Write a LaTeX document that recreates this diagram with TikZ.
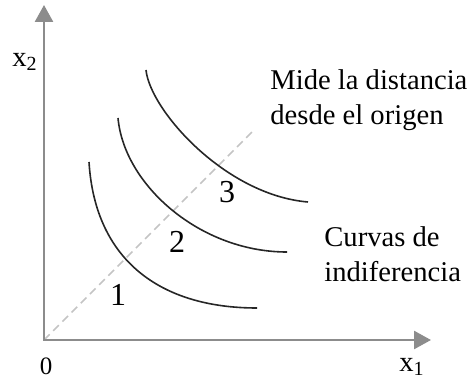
\documentclass[tikz,border=0pt]{standalone}
\usepackage{fontspec}
\setmainfont{Liberation Serif}
\usetikzlibrary{arrows.meta}
\definecolor{axisgray}{HTML}{8C8C8C}
\definecolor{diaggray}{HTML}{C4C4C4}
\begin{document}
\begin{tikzpicture}[x=0.5pt,y=-0.5pt,
    axis/.style={draw=axisgray, line width=1.3pt, {Triangle[length=8.5pt,width=9pt]}-{Triangle[length=8.5pt,width=9pt]}},
    diag/.style={draw=diaggray, line width=0.8pt, dash pattern=on 4pt off 2.5pt},
    curve/.style={draw=black!85, line width=0.8pt},
    lbl/.style={inner sep=0pt, font=\fontsize{14.3}{17.5}\selectfont},
    num/.style={inner sep=0pt, font=\fontsize{16}{18}\selectfont}]
  \useasboundingbox (0,0) rectangle (474,383);
  % ejes y diagonal
  \coordinate (O) at (44,340);
  \coordinate (xend) at (431,340);
  \coordinate (yend) at (44,5);
  \coordinate (dend) at (252,132);
  \draw[diag] (O) -- (dend);
  \draw[axis] (yend) -- (O) -- (xend);

  % curvas de indiferencia
  \draw[curve] (89,162) .. controls (95,260) and (160,308) .. (257,308);
  \draw[curve] (118,118) .. controls (124,185) and (200,252) .. (287,252);
  \draw[curve] (146,70) .. controls (150,110) and (225,195) .. (308,202);

  \node[num] (n1) at (118,295) {1};
  \node[num] (n2) at (177,242) {2};
  \node[num] (n3) at (227,192) {3};

  \node[lbl, anchor=west, align=left] (mide) at (270,100) {Mide la distancia\\desde el origen};
  \node[lbl, anchor=west, align=left] (curvas) at (324,254) {Curvas de\\indiferencia};
  \node[lbl, font=\fontsize{12.5}{14}\selectfont] (orig) at (46,366) {0};
  \node[lbl] (ylab) at (25,62) {x\textsubscript{2}};
  \node[lbl] (xlab) at (412,367) {x\textsubscript{1}};
\end{tikzpicture}
\end{document}
